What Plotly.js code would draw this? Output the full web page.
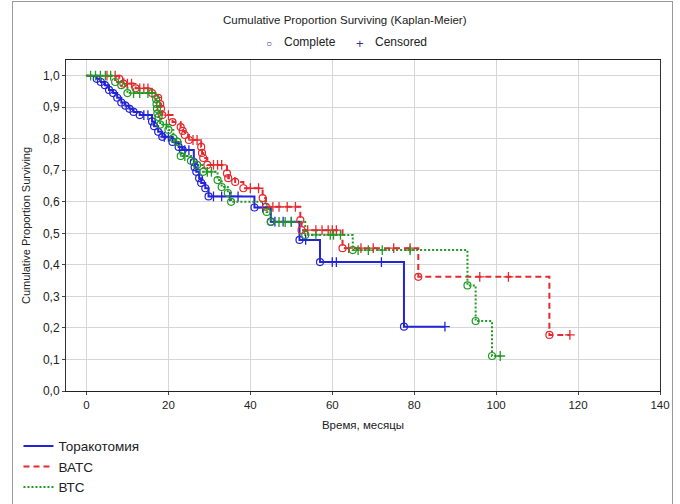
<!DOCTYPE html>
<html><head><meta charset="utf-8">
<script src="https://cdn.plot.ly/plotly-3.0.1.min.js"></script>
<style>
html,body{margin:0;padding:0;background:#fff;overflow:hidden}
#chart{width:680px;height:504px}
#frame{position:absolute;left:12px;top:1px;width:659px;height:530px;border:1px solid #9a9a9a;pointer-events:none}
</style></head>
<body><div id="chart"></div><div id="frame"></div>
<script>
// Торакотомия: event times (months), survival after each event, censored times
const thorT = [2.5, 3.5, 4.5, 5.5, 6.5, 7.5, 8.5, 9.5, 10.5, 11.5, 13, 16, 16.5, 17.5, 18.5, 21, 22.5, 23.5, 26.2, 26.4, 26.8, 27.5, 28, 29, 29.8, 41, 45, 52, 57, 77.5];
const thorS = [0.99, 0.98, 0.97, 0.955, 0.945, 0.93, 0.915, 0.905, 0.895, 0.885, 0.875, 0.855, 0.84, 0.822, 0.806, 0.79, 0.774, 0.764, 0.726, 0.71, 0.695, 0.675, 0.66, 0.643, 0.617, 0.582, 0.537, 0.479, 0.409, 0.204];
const thorCens = [14, 15, 19, 20, 24, 25, 31, 33, 35, 37, 43, 46, 48, 50, 53.5, 60, 61, 72, 87.5];

// ВАТС
const vatsT = [8, 9, 12, 16, 17.5, 18, 18.2, 18.5, 21, 23, 23.5, 24, 25, 28, 28.2, 28.5, 29.5, 34.3, 34.6, 36.3, 38.3, 43, 43.8, 52.2, 52.5, 62.5, 81, 113];
const vatsS = [0.99, 0.975, 0.96, 0.945, 0.93, 0.91, 0.895, 0.875, 0.853, 0.837, 0.825, 0.812, 0.796, 0.774, 0.755, 0.739, 0.717, 0.69, 0.675, 0.663, 0.643, 0.612, 0.584, 0.542, 0.51, 0.453, 0.362, 0.178];
const vatsCens = [5, 7, 10, 11, 13, 14, 15, 20, 26, 27, 31, 32, 33, 40, 42, 45.5, 47, 49, 51, 54, 56, 57.5, 59, 60, 61, 64, 67, 70, 75, 79, 96, 103, 118];

// ВТС
const vtsT = [7, 8.5, 10, 17, 17.1, 17.2, 17.3, 17.6, 18, 20, 21.2, 22.2, 23, 25.5, 27, 28.5, 32, 33, 34.5, 35.3, 44, 45, 53.4, 65, 93, 95, 99];
const vtsS = [0.98, 0.97, 0.945, 0.925, 0.91, 0.895, 0.88, 0.869, 0.845, 0.828, 0.802, 0.79, 0.745, 0.73, 0.717, 0.695, 0.669, 0.647, 0.628, 0.6, 0.568, 0.536, 0.495, 0.447, 0.335, 0.222, 0.111];
const vtsCens = [1, 2.2, 3.4, 4.6, 5.9, 11.5, 13, 15, 16, 19.5, 24, 29.5, 30.5, 47, 48.5, 50, 56, 59.5, 60.3, 62, 66.3, 68.8, 72.2, 79, 101];

const groupNames = ['Торакотомия', 'ВАТС', 'ВТС'];
const xTicks = [0, 20, 40, 60, 80, 100, 120, 140];
const yTicks = [0, 0.1, 0.2, 0.3, 0.4, 0.5, 0.6, 0.7, 0.8, 0.9, 1.0];
const yTickText = ['0,0', '0,1', '0,2', '0,3', '0,4', '0,5', '0,6', '0,7', '0,8', '0,9', '1,0'];

const colors = ['#2323d8', '#e52a2f', '#1f9a22'];
const dashes = ['solid', '6px,4px', '2px,2px'];

function survAt(times, surv, t) {
  let s = 1;
  for (let i = 0; i < times.length; i++) { if (times[i] <= t) s = surv[i]; }
  return s;
}
function stepLine(times, surv, cens) {
  const x = [0].concat(times), y = [1].concat(surv);
  const end = Math.max(times[times.length - 1], Math.max.apply(null, cens));
  x.push(end); y.push(surv[surv.length - 1]);
  return {x, y};
}

const groups = [[thorT, thorS, thorCens], [vatsT, vatsS, vatsCens], [vtsT, vtsS, vtsCens]];
const lineTraces = [], markerTraces = [];
groups.forEach((g, i) => {
  const st = stepLine(g[0], g[1], g[2]);
  lineTraces.push({x: st.x, y: st.y, type: 'scatter', mode: 'lines', name: groupNames[i],
    line: {shape: 'hv', color: colors[i], width: 2, dash: dashes[i]}, hoverinfo: 'skip'});
  markerTraces.push({x: g[0], y: g[1], type: 'scatter', mode: 'markers', showlegend: false,
    marker: {symbol: 'circle-open', size: 7, color: colors[i], line: {width: 1.2, color: colors[i]}}});
  markerTraces.push({x: g[2], y: g[2].map(t => survAt(g[0], g[1], t)), type: 'scatter', mode: 'markers', showlegend: false,
    marker: {symbol: 'cross-thin-open', size: 7, color: colors[i], line: {width: 1.3, color: colors[i]}}});
});

const font = 'Liberation Sans, Arial, sans-serif';
const layout = {
  width: 680, height: 504,
  margin: {l: 66, r: 20, t: 60, b: 113, autoexpand: false},
  paper_bgcolor: '#fff', plot_bgcolor: '#fff',
  font: {family: font, size: 11, color: '#222'},
  title: {text: 'Cumulative Proportion Surviving (Kaplan-Meier)', x: 0.507, xanchor: 'center', y: 0.96, yanchor: 'middle', font: {family: font, size: 11.5, color: '#222'}},
  xaxis: {range: [-5, 140], tickvals: xTicks, ticktext: xTicks.map(String), showgrid: true, gridcolor: '#d6d6d6', zeroline: false,
    showline: true, linecolor: '#222', linewidth: 1, mirror: true, ticks: 'outside', ticklen: 3, tickcolor: '#444',
    tickfont: {size: 11.5}, title: {text: 'Время, месяцы', standoff: 11, font: {size: 11.5}}},
  yaxis: {range: [0, 1.0498], tickvals: yTicks, ticktext: yTickText, showgrid: true, gridcolor: '#d6d6d6', zeroline: false,
    showline: true, linecolor: '#333', linewidth: 1, mirror: true, ticks: 'outside', ticklen: 3, tickcolor: '#444',
    tickfont: {size: 12}, title: {text: 'Cumulative Proportion Surviving', standoff: 10, font: {size: 11}}},
  showlegend: true,
  legend: {x: -0.08, xanchor: 'left', y: -0.12, yanchor: 'top', orientation: 'v', font: {family: font, size: 13.5, color: '#222'}, bgcolor: 'rgba(0,0,0,0)', tracegroupgap: 0},
  annotations: [
    {xref: 'paper', yref: 'paper', x: (269 - 66) / 594, y: (391 - 44) / 331, yanchor: 'middle', text: '○', showarrow: false, font: {size: 10, color: '#333388'}},
    {xref: 'paper', yref: 'paper', x: (282 - 66) / 594, xanchor: 'left', y: (391 - 42) / 331, yanchor: 'middle', text: 'Complete', showarrow: false, font: {size: 12, color: '#222'}},
    {xref: 'paper', yref: 'paper', x: (360 - 66) / 594, y: (391 - 43) / 331, yanchor: 'middle', text: '+', showarrow: false, font: {size: 13, color: '#333388'}},
    {xref: 'paper', yref: 'paper', x: (373 - 66) / 594, xanchor: 'left', y: (391 - 42) / 331, yanchor: 'middle', text: 'Censored', showarrow: false, font: {size: 12, color: '#222'}}
  ]
};
Plotly.newPlot('chart', lineTraces.concat(markerTraces), layout, {displayModeBar: false, staticPlot: true});
</script></body></html>
